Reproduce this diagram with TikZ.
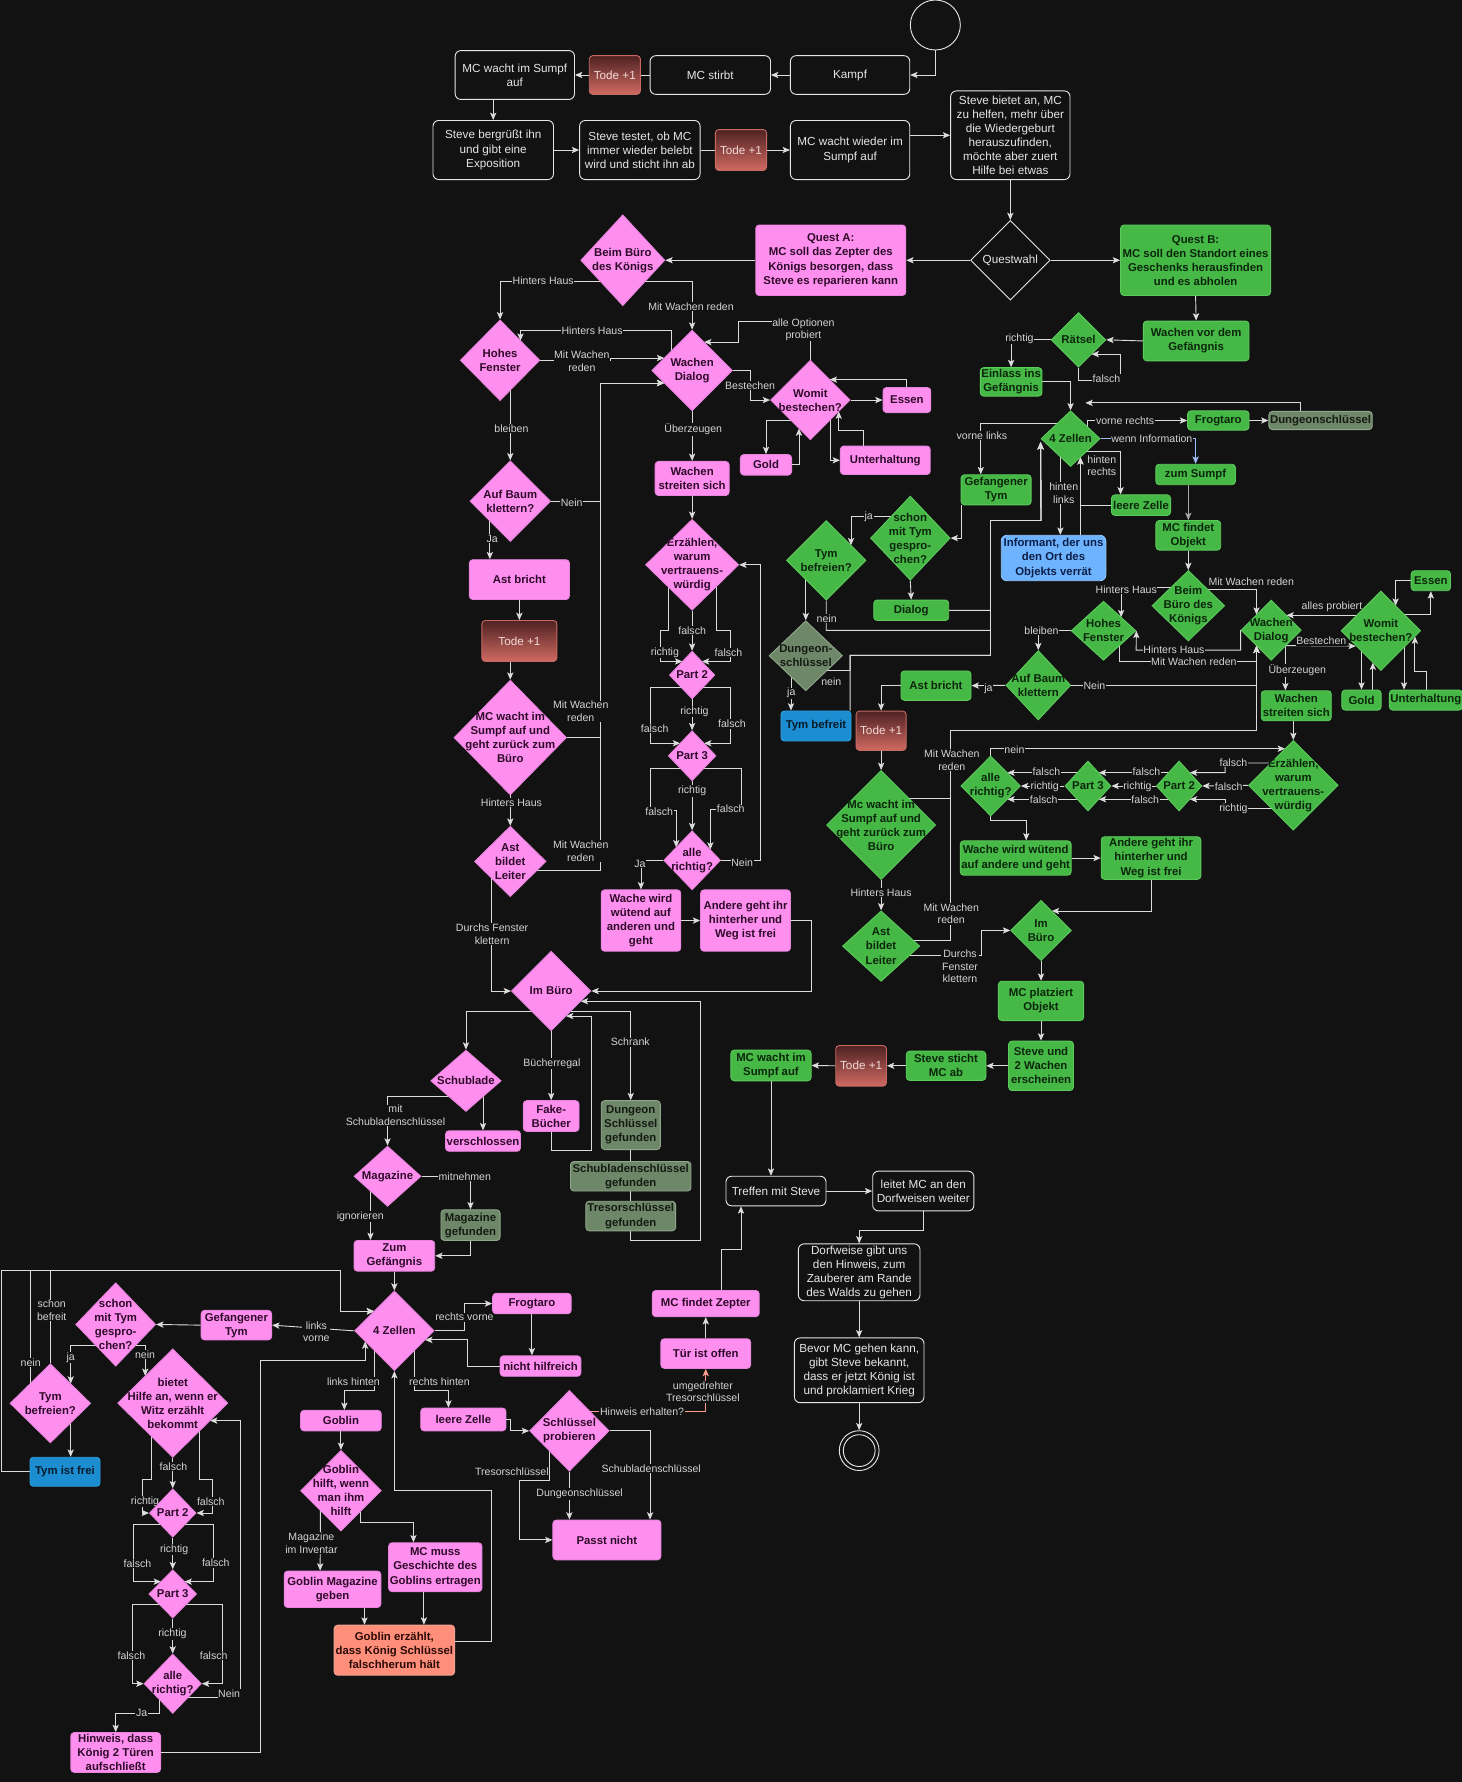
\documentclass[tikz,border=0pt]{standalone}
\usepackage{fontspec}
\setmainfont{Liberation Sans}
\usetikzlibrary{shapes.geometric,arrows.meta}
\definecolor{bgc}{HTML}{121212}
\definecolor{wline}{HTML}{E6E6E6}
\definecolor{wtext}{HTML}{E6E6E6}
\definecolor{pinkf}{HTML}{FF8FEF}
\definecolor{pinkd}{HTML}{E884DC}
\definecolor{pinkt}{HTML}{2E0A2A}
\definecolor{greenf}{HTML}{45B845}
\definecolor{greend}{HTML}{5CCB5C}
\definecolor{greent}{HTML}{0C260C}
\definecolor{grayf}{HTML}{6E8769}
\definecolor{grayd}{HTML}{8FA88A}
\definecolor{grayt}{HTML}{141A12}
\definecolor{lbluef}{HTML}{6DB3FF}
\definecolor{lblued}{HTML}{8CC4FF}
\definecolor{lbluet}{HTML}{0B1E46}
\definecolor{dbluef}{HTML}{1B8DD0}
\definecolor{dblued}{HTML}{2E9FE0}
\definecolor{dbluet}{HTML}{081A2A}
\definecolor{salf}{HTML}{FF8E7B}
\definecolor{sald}{HTML}{F0A090}
\definecolor{salt}{HTML}{2A0A05}
\definecolor{todetop}{HTML}{4F2222}
\definecolor{todebot}{HTML}{D06A62}
\definecolor{todeb}{HTML}{C86A62}
\definecolor{todet}{HTML}{F2DADA}
\definecolor{lc}{HTML}{DCDCDC}
\definecolor{lcg}{HTML}{A8A8A8}
\definecolor{labc}{HTML}{D4D4D4}
\definecolor{infoc}{HTML}{9DBDF5}
\definecolor{hinc}{HTML}{FF9C8C}
\newcommand{\fWbox}{\fontsize{10.3}{12.4}\selectfont}
\newcommand{\fNode}{\bfseries\fontsize{10}{12.4}\selectfont}
\newcommand{\fLab}{\fontsize{9.3}{11}\selectfont}
\newcommand{\mkbox}[7]{\node[#1, minimum width=#5pt, minimum height=#6pt] (#2) at (#3,#4) {#7};}
\newcommand{\mkdia}[7]{\node[#1, minimum width=#5pt, minimum height=#6pt] (#2) at (#3,#4) {}; \node[#1tx] (#2t) at (#2.center) {#7};}
\pgfdeclarelayer{bgl}
\pgfdeclarelayer{edges}
\pgfsetlayers{bgl,edges,main}
\tikzset{
  nd/.style={rounded corners=3pt, inner sep=1pt, align=center, line width=0.8pt},
  wbox/.style={nd, rounded corners=5pt, draw=wline, fill=bgc, text=wtext, font=\fWbox},
  pbox/.style={nd, draw=pinkd, fill=pinkf, text=pinkt, font=\fNode},
  gbox/.style={nd, draw=greend, fill=greenf, text=greent, font=\fNode},
  gybox/.style={nd, draw=grayd, fill=grayf, text=grayt, font=\fNode},
  lbbox/.style={nd, rounded corners=5pt, draw=lblued, fill=lbluef, text=lbluet, font=\fNode},
  dbbox/.style={nd, draw=dblued, fill=dbluef, text=dbluet, font=\fNode},
  sbox/.style={nd, draw=sald, fill=salf, text=salt, font=\fNode},
  tode/.style={nd, draw=todeb, top color=todetop, bottom color=todebot, text=todet, font=\fWbox},
  pdia/.style={diamond, draw=pinkd, fill=pinkf, inner sep=0pt, line width=0.8pt},
  gdia/.style={diamond, draw=greend, fill=greenf, inner sep=0pt, line width=0.8pt},
  gydia/.style={diamond, draw=grayd, fill=grayf, inner sep=0pt, line width=0.8pt},
  wdia/.style={diamond, draw=wline, fill=bgc, inner sep=0pt, line width=0.8pt},
  pdiatx/.style={align=center, inner sep=0pt, text=pinkt, font=\fNode},
  gdiatx/.style={align=center, inner sep=0pt, text=greent, font=\fNode},
  gydiatx/.style={align=center, inner sep=0pt, text=grayt, font=\fNode},
  wdiatx/.style={align=center, inner sep=0pt, text=wtext, font=\fWbox},
  ar/.style={draw=lc, line width=0.8pt, -{Stealth[length=6.5pt,width=5.5pt,inset=1.5pt]}},
  arg/.style={ar, draw=lcg},
  ln/.style={draw=lc, line width=0.8pt},
  lab/.style={fill=bgc, text=labc, font=\fLab, inner sep=0.6pt, align=center},
}
\begin{document}
\begin{tikzpicture}[x=1pt,y=-1pt]
\begin{pgfonlayer}{bgl}
\fill[bgc] (0,0) rectangle (1286,1568);
\end{pgfonlayer}
\useasboundingbox (0,0) rectangle (1286,1568);

% ---------- top (white) ----------
\node[circle, draw=wline, fill=bgc, line width=0.8pt, minimum size=44pt, inner sep=0pt] (st0) at (823,22) {};
\mkbox{wbox}{kampf}{748}{66}{105}{34}{Kampf}
\mkbox{wbox}{stirbt}{625}{66}{106}{34}{MC stirbt}
\mkbox{wbox}{wachtA}{453}{66}{105}{43}{MC wacht im Sumpf\\auf}
\mkbox{wbox}{bergr}{434}{132}{106}{52}{Steve bergrüßt ihn\\und gibt eine\\Exposition}
\mkbox{wbox}{testet}{563}{132}{106}{52}{Steve testet, ob MC\\immer wieder belebt\\wird und sticht ihn ab}
\mkbox{wbox}{wachtB}{748}{132}{105}{52}{MC wacht wieder im\\Sumpf auf}
\mkbox{wbox}{bietet}{889}{119}{105}{78}{Steve bietet an, MC\\zu helfen, mehr über\\die Wiedergeburt\\herauszufinden,\\möchte aber zuert\\Hilfe bei etwas}
\mkbox{tode}{todeA}{541}{66}{45}{34}{Tode +1}
\mkbox{tode}{todeB}{652}{132}{45}{36}{Tode +1}
\mkdia{wdia}{qw}{889}{229}{70}{70}{Questwahl}
\mkbox{pbox}{questA}{731}{229}{132}{62}{Quest A:\\MC soll das Zepter des\\Königs besorgen, dass\\Steve es reparieren kann}
\mkbox{gbox}{questB}{1052}{229}{132}{62}{Quest B:\\MC soll den Standort eines\\Geschenks herausfinden\\und es abholen}

% ---------- pink quest A ----------
\mkdia{pdia}{bbA}{548}{229}{74}{80}{Beim Büro\\des Königs}
\mkdia{pdia}{hfA}{440}{317}{70}{71}{Hohes\\Fenster}
\mkdia{pdia}{wdA}{609}{326}{71}{71}{Wachen\\Dialog}
\mkdia{pdia}{womA}{713}{352}{70}{70}{Womit\\bestechen?}
\mkbox{pbox}{essA}{798}{352}{42}{22}{Essen}
\mkbox{pbox}{goldA}{674}{409}{45}{18}{Gold}
\mkbox{pbox}{untA}{779}{405}{79}{25}{Unterhaltung}
\mkbox{pbox}{wsA}{609}{421}{65}{30}{Wachen\\streiten sich}
\mkdia{pdia}{erzA}{609}{497}{82}{80}{Erzählen,\\warum\\vertrauens-\\würdig}
\mkdia{pdia}{p2A}{609}{594}{40}{42}{Part 2}
\mkdia{pdia}{p3A}{609}{665}{42}{44}{Part 3}
\mkdia{pdia}{arA}{609}{757}{50}{52}{alle\\richtig?}
\mkbox{pbox}{wwA}{564}{810}{70}{54}{Wache wird\\wütend auf\\anderen und\\geht}
\mkbox{pbox}{agA}{656}{810}{79}{54}{Andere geht ihr\\hinterher und\\Weg ist frei}
\mkdia{pdia}{ibA}{485}{872}{70}{70}{Im Büro}
\mkdia{pdia}{abA}{449}{441}{71}{71}{Auf Baum\\klettern?}
\mkbox{pbox}{astA}{457}{510}{88}{35}{Ast bricht}
\mkbox{tode}{todeC}{457}{564}{66}{36}{Tode +1}
\mkdia{pdia}{mwA}{449}{649}{99}{101}{MC wacht im\\Sumpf auf und\\geht zurück zum\\Büro}
\mkdia{pdia}{ablA}{449}{758}{63}{62}{Ast\\bildet\\Leiter}
\mkdia{pdia}{schA}{410}{951}{62}{54}{Schublade}
\mkbox{pbox}{fbA}{485}{982}{49}{27}{Fake-\\Bücher}
\mkbox{gybox}{dsgA}{555}{990}{52}{43}{Dungeon\\Schlüssel\\gefunden}
\mkbox{gybox}{sbgA}{555}{1035}{106}{26}{Schubladenschlüssel\\gefunden}
\mkbox{gybox}{tsgA}{555}{1070}{79}{26}{Tresorschlüssel\\gefunden}
\mkbox{pbox}{verA}{425}{1004}{62}{18}{verschlossen}
\mkdia{pdia}{magA}{341}{1035}{59}{53}{Magazine}
\mkbox{gybox}{mgfA}{414}{1078}{52}{27}{Magazine\\gefunden}
\mkbox{pbox}{zgA}{347}{1105}{71}{27}{Zum\\Gefängnis}
\mkdia{pdia}{z4A}{347}{1171}{70}{70}{4 Zellen}
\mkbox{pbox}{frA}{468}{1147}{69}{18}{Frogtaro}
\mkbox{pbox}{nhA}{475.6}{1202}{71}{18}{nicht hilfreich}
\mkbox{pbox}{gtA}{208}{1166}{62}{26}{Gefangener\\Tym}
\mkbox{pbox}{gobA}{300}{1250}{71}{18}{Goblin}
\mkdia{pdia}{ghA}{300}{1311.7}{71}{71}{Goblin\\hilft, wenn\\man ihm\\hilft}
\mkbox{pbox}{gmgA}{292.6}{1398.4}{85}{32}{Goblin Magazine\\geben}
\mkbox{pbox}{mmA}{383}{1379}{82}{43}{MC muss\\Geschichte des\\Goblins ertragen}
\mkbox{sbox}{geA}{347}{1452}{106}{44}{Goblin erzählt,\\dass König Schlüssel\\falschherum hält}
\mkbox{pbox}{lzA}{407.7}{1249}{75}{20}{leere Zelle}
\mkdia{pdia}{spA}{501}{1259}{70}{71}{Schlüssel\\probieren}
\mkbox{pbox}{pnA}{534}{1355}{95}{35}{Passt nicht}
\mkbox{pbox}{tuA}{621}{1191}{79}{26}{Tür ist offen}
\mkbox{pbox}{mfzA}{621}{1147}{94}{23}{MC findet Zepter}
\mkbox{wbox}{trA}{682.8}{1048}{88}{26}{Treffen mit Steve}
\mkbox{wbox}{leA}{812.4}{1048}{89}{35}{leitet MC an den\\Dorfweisen weiter}
\mkbox{wbox}{dwA}{756}{1119.5}{107}{50}{Dorfweise gibt uns\\den Hinweis, zum\\Zauberer am Rande\\des Walds zu gehen}
\mkbox{wbox}{bvA}{756}{1205.7}{114}{57}{Bevor MC gehen kann,\\gibt Steve bekannt,\\dass er jetzt König ist\\und proklamiert Krieg}
\node[circle, draw=wline, fill=bgc, line width=0.8pt, minimum size=35pt, inner sep=0pt] (endA) at (756,1276.4) {};
\node[circle, draw=wline, line width=0.8pt, minimum size=28pt, inner sep=0pt] (endAi) at (endA.center) {};

% Tym (pink)
\mkdia{pdia}{stA}{101.8}{1165.4}{70.4}{73.4}{schon\\mit Tym\\gespro-\\chen?}
\mkdia{pdia}{tbA}{44.3}{1234.8}{71}{69.6}{Tym\\befreien?}
\mkdia{pdia}{bhA}{152}{1234.6}{97}{95.4}{bietet\\Hilfe an, wenn er\\Witz erzählt\\bekommt}
\mkbox{dbbox}{tifA}{57.2}{1295}{61.6}{25.5}{Tym ist frei}
\mkdia{pdia}{p2T}{152}{1331.3}{41}{42.6}{Part 2}
\mkdia{pdia}{p3T}{152}{1402.5}{42}{42.5}{Part 3}
\mkdia{pdia}{arT}{152}{1481.5}{50.5}{52.2}{alle\\richtig?}
\mkbox{pbox}{hwA}{101.8}{1542}{79}{35}{Hinweis, dass\\König 2 Türen\\aufschließt}

% ---------- green quest B ----------
\mkbox{gbox}{wvG}{1052.5}{300}{93}{35}{Wachen vor dem\\Gefängnis}
\mkdia{gdia}{raG}{949}{299}{48}{48}{Rätsel}
\mkbox{gbox}{eiG}{889.7}{336}{53}{25}{Einlass ins\\Gefängnis}
\mkdia{gdia}{z4G}{942}{386}{52}{49}{4 Zellen}
\mkbox{gbox}{frG}{1072}{370}{54}{17}{Frogtaro}
\mkbox{gybox}{dkG}{1162}{370}{88.6}{16}{Dungeonschlüssel}
\mkbox{gbox}{zsG}{1052}{417.5}{70}{18}{zum Sumpf}
\mkbox{gbox}{mfoG}{1045.6}{471}{57}{26}{MC findet\\Objekt}
\mkbox{gbox}{lzG}{1004}{444.5}{52}{18}{leere Zelle}
\mkbox{lbbox}{inG}{927}{491}{92}{40}{Informant, der uns\\den Ort des\\Objekts verrät}
\mkbox{gbox}{gtG}{876.5}{431}{61.6}{26.5}{Gefangener\\Tym}
\mkdia{gdia}{stG}{801}{473.5}{70}{74}{schon\\mit Tym\\gespro-\\chen?}
\mkdia{gdia}{tbG}{727}{493}{70}{70}{Tym\\befreien?}
\mkbox{gbox}{dlG}{801.8}{537}{66}{18}{Dialog}
\mkdia{gydia}{dsG}{709}{577}{64.6}{61.6}{Dungeon-\\schlüssel}
\mkbox{dbbox}{tybG}{718}{638.8}{61.6}{26.4}{Tym befreit}
\mkdia{gdia}{bbG}{1045.6}{533}{64}{62}{Beim\\Büro des\\Königs}
\mkdia{gdia}{hfG}{971}{555}{57}{52}{Hohes\\Fenster}
\mkdia{gdia}{wdG}{1118.5}{554.5}{53}{53}{Wachen\\Dialog}
\mkdia{gdia}{abG}{913.6}{603}{57}{61}{Auf Baum\\klettern}
\mkbox{gbox}{asG}{823.6}{603.3}{61.6}{25.8}{Ast bricht}
\mkbox{tode}{tdG1}{775.3}{643}{44}{34.6}{Tode +1}
\mkdia{gdia}{mwG}{775.3}{726}{96}{96}{Mc wacht im\\Sumpf auf und\\geht zurück zum\\Büro}
\mkdia{gdia}{ablG}{775.3}{832.5}{68}{62}{Ast\\bildet\\Leiter}
\mkdia{gdia}{ibG}{916}{818.7}{53.4}{53}{Im\\Büro}
\mkbox{gbox}{mpG}{916}{880.7}{75}{34.6}{MC platziert\\Objekt}
\mkbox{gbox}{swG}{916}{937.8}{57}{43.5}{Steve und\\2 Wachen\\erscheinen}
\mkbox{gbox}{ssG}{832.4}{937.8}{70}{25.7}{Steve sticht\\MC ab}
\mkbox{tode}{tdG2}{757.7}{937.8}{44.6}{35.7}{Tode +1}
\mkbox{gbox}{mwsG}{678.4}{937.5}{70.6}{27}{MC wacht im\\Sumpf auf}
\mkbox{gbox}{wsG}{1140.6}{621}{61.6}{26.4}{Wachen\\streiten sich}
\mkdia{gdia}{erzG}{1138}{691}{79}{79}{Erzählen,\\warum\\vertrauens-\\würdig}
\mkdia{gdia}{womG}{1215}{555}{70}{70}{Womit\\bestechen?}
\mkbox{gbox}{esG}{1259}{511}{34.6}{17.6}{Essen}
\mkbox{gbox}{goG}{1198}{616}{34.6}{17.6}{Gold}
\mkbox{gbox}{unG}{1254.6}{616}{61}{17.6}{Unterhaltung}
\mkdia{gdia}{p2G}{1037.5}{691.6}{40}{44}{Part 2}
\mkdia{gdia}{p3G}{957.3}{691.6}{40.5}{44}{Part 3}
\mkdia{gdia}{arG}{871.7}{691.6}{52.5}{52.8}{alle\\richtig?}
\mkbox{gbox}{wwG}{893.7}{755}{96.6}{30.2}{Wache wird wütend\\auf andere und geht}
\mkbox{gbox}{agG}{1012.8}{755}{87.7}{37.5}{Andere geht ihr\\hinterher und\\Weg ist frei}
\coordinate (dkEnd) at (955,354.5);

\begin{pgfonlayer}{edges}
% top
\draw[ar] (st0.south) |- (kampf.east);
\draw[ar] (kampf.west) -- (stirbt.east);
\draw[ar] (stirbt.west) -- (wachtA.east);
\draw[ar] (434,0 |- wachtA.south) -- (bergr.north);
\draw[ar] (bergr.east) -- (testet.west);
\draw[ar] (testet.east) -- (wachtB.west);
\draw[ar] (wachtB.east |- bietet.west) -- (bietet.west);
\draw[ar] (bietet.south) -- (qw.north);
\draw[ar] (qw.west) -- (questA.east);
\draw[ar] (qw.east) -- (questB.west);
% pink
\draw[ar] (questA.west) -- (bbA.east);
\draw[ar] ([shift={(0,19)}]bbA.center) -| (hfA.north);
\draw[ar] ([shift={(0,19)}]bbA.center) -| (wdA.north);
\draw[ar] ([shift={(-18,0)}]wdA.center) |- (458,291) -- ([shift={(18,-17.2)}]hfA.center);
\draw[ar] (hfA.east) -- (537,317) |- ([shift={(-24.5,-11)}]wdA.center);
\draw[ar] (wdA.east) -| (660,352) -- (womA.west);
\draw[ar] (womA.north) |- (650,283) |- ([shift={(10.5,-25)}]wdA.center);
\draw[ar] (womA.east) -- (essA.west);
\draw[ar] (essA.north) |- ([shift={(17,-18)}]womA.center);
\draw[ar] ([shift={(0,18)}]womA.center) -| (goldA.north);
\draw[ar] (goldA.east) -| ([shift={(-10,25)}]womA.center);
\draw[ar] ([shift={(18,0)}]womA.center) |- (untA.west);
\draw[ar] (760,0 |- untA.north) |- (738,379) -- ([shift={(25,10)}]womA.center);
\draw[ar] (wdA.south) -- (wsA.north);
\draw[ar] (wsA.south) -- (erzA.north);
\draw[ar] (erzA.south) -- (p2A.north);
\draw[ar] ([shift={(-21,0)}]erzA.center) |- (581,555) |- ([shift={(-8.6,-12)}]p2A.center);
\draw[ar] ([shift={(21,0)}]erzA.center) |- (643,555) |- ([shift={(8.6,-12)}]p2A.center);
\draw[ar] (p2A.south) -- (p3A.north);
\draw[ar] ([shift={(0,11)}]p2A.center) -| (572,654) -- ([shift={(-10.5,-11)}]p3A.center);
\draw[ar] ([shift={(0,11)}]p2A.center) -| (643,654) -- ([shift={(10.5,-11)}]p3A.center);
\draw[ar] (p3A.south) -- (arA.north);
\draw[ar] ([shift={(0,11)}]p3A.center) -| (572,713) -| ([shift={(-14,-11.4)}]arA.center);
\draw[ar] ([shift={(0,11)}]p3A.center) -| (652,712) -| ([shift={(16,-9.4)}]arA.center);
\draw[ar] (arA.east) -| (669,497) -- (erzA.east);
\draw[ar] (arA.west) -| (wwA.north);
\draw[ar] (wwA.east) -- (agA.west);
\draw[ar] (agA.east) -- (714,810) |- (ibA.east);
\draw[ar] ([shift={(9,0)}]hfA.center) -- (abA.north);
\draw[ar] ([shift={(-18,0)}]abA.center) -- (431,0 |- astA.north);
\draw[ar] (abA.east) -| (528,337) -- ([shift={(-24.5,11)}]wdA.center);
\draw[ar] (astA.south) -- (todeC.north);
\draw[ar] (449,0 |- todeC.south) -- (mwA.north);
\draw[ar] (mwA.east) -| (528,337) -- ([shift={(-24.5,11)}]wdA.center);
\draw[ar] (mwA.south) -- (ablA.north);
\draw[ar] ([shift={(0,8)}]ablA.center) -| (528,337) -- ([shift={(-24.5,11)}]wdA.center);
\draw[ar] ([shift={(-17,0)}]ablA.center) |- (ibA.west);
\draw[ar] ([shift={(0,18)}]ibA.center) -| (schA.north);
\draw[ar] (ibA.south) -- (fbA.north);
\draw[ar] (fbA.south) |- (520,1012) |- ([shift={(13,22)}]ibA.center);
\draw[ar] ([shift={(0,18)}]ibA.center) -| (dsgA.north);
\draw[ln] (dsgA.south) -- (sbgA.north);
\draw[ln] (sbgA.south) -- (tsgA.north);
\draw[ar] (tsgA.south) |- (616,1091.5) |- ([shift={(26,9)}]ibA.center);
\draw[ar] ([shift={(15,0)}]schA.center) -- (verA.north);
\draw[ar] ([shift={(0,13.5)}]schA.center) -| (magA.north);
\draw[ar] (magA.east) -| (mgfA.north);
\draw[ar] ([shift={(-15,0)}]magA.center) -- (326,0 |- zgA.north);
\draw[ar] (mgfA.south) |- (zgA.east);
\draw[ar] (zgA.south) -- (z4A.north);
\draw[ar] (z4A.east) -| (408.5,1147) -- (frA.west);
\draw[ar] (468,0 |- frA.south) -- (468,0 |- nhA.north);
\draw[ar] (nhA.west) -| (411,1179) -- ([shift={(27,8)}]z4A.center);
\draw[ar] (z4A.west) -- (gtA.east);
\draw[ar] ([shift={(-17.5,0)}]z4A.center) |- (303,1223.6) -- (303,0 |- gobA.north);
\draw[ar] (gobA.south) -- (ghA.north);
\draw[ar] ([shift={(-18,0)}]ghA.center) -- (281.7,0 |- gmgA.north);
\draw[ar] ([shift={(17.3,0)}]ghA.center) |- (363.8,1340) -- (363.8,0 |- mmA.north);
\draw[ar] (320.7,0 |- gmgA.south) -- (320.7,0 |- geA.north);
\draw[ar] (373,0 |- mmA.south) -- (373,0 |- geA.north);
\draw[ar] ([shift={(0,-8)}]geA.center) -| (432,1311.6) -| (z4A.south);
\draw[ar] ([shift={(17.5,0)}]z4A.center) |- (394.6,1223.6) -- (394.6,0 |- lzA.north);
\draw[ar] (lzA.east) -| (449.5,1259) -- (spA.west);
\draw[ar] ([shift={(-17.4,0)}]spA.center) |- (457,1302.8) |- (pnA.west);
\draw[ar] (spA.south) -- (501,0 |- pnA.north);
\draw[ar] (spA.east) -| (572,0 |- pnA.north);
\draw[ar, draw=hinc] ([shift={(0,-17)}]spA.center) -| (tuA.south);
\draw[ar] (tuA.north) -- (mfzA.south);
\draw[ar] (634.4,0 |- mfzA.north) |- (652,1099) -- (652,0 |- trA.south);
\draw[ar] (trA.east) -- (leA.west);
\draw[ar] (leA.south) |- (756,1083) -- (dwA.north);
\draw[ar] (dwA.south) -- (bvA.north);
\draw[ar] (bvA.south) -- (endA.north);
\draw[ar] (678.4,0 |- mwsG.south) -- (678.4,0 |- trA.north);
% Tym pink
\draw[ar] (gtA.west) -- (stA.east);
\draw[ar] ([shift={(0,18.6)}]stA.center) -| ([shift={(17.9,-17.3)}]tbA.center);
\draw[ar] ([shift={(0,18.6)}]stA.center) -| ([shift={(-24.2,-23.9)}]bhA.center);
\draw[ar] ([shift={(17.9,0)}]tbA.center) -- (62.2,0 |- tifA.north);
\draw[ar] (tifA.west) -| (1.5,1118) -| (299.3,1153.8) -- ([shift={(-17.8,-17.2)}]z4A.center);
\draw[ar] ([shift={(-17.3,0)}]tbA.center) |- (299.3,1118) -- (299.3,1153.8) -- ([shift={(-17.8,-17.2)}]z4A.center);
\draw[ar] (tbA.north) |- (299.3,1118) -- (299.3,1153.8) -- ([shift={(-17.8,-17.2)}]z4A.center);
\draw[ar] (bhA.south) -- (p2T.north);
\draw[ar] ([shift={(-18.3,0)}]bhA.center) |- (125.3,1301.4) |- (p2T.west);
\draw[ar] ([shift={(23.7,0)}]bhA.center) |- (187,1301.4) |- (p2T.east);
\draw[ar] (p2T.south) -- (p3T.north);
\draw[ar] ([shift={(0,10.5)}]p2T.center) -| (117.4,1391.7) -- ([shift={(-10.3,-10.8)}]p3T.center);
\draw[ar] ([shift={(0,10.5)}]p2T.center) -| (187.8,1391.7) -- ([shift={(10.3,-10.8)}]p3T.center);
\draw[ar] (p3T.south) -- (arT.north);
\draw[ar] ([shift={(0,9.5)}]p3T.center) -| (116.8,1481.5) -- (arT.west);
\draw[ar] ([shift={(0,9.5)}]p3T.center) -| (195.7,1481.5) -- (arT.east);
\draw[ar] ([shift={(0,12)}]arT.center) -| (211.9,1250) -- ([shift={(32.8,15.4)}]bhA.center);
\draw[ar] ([shift={(-12,0)}]arT.center) |- (101.8,1507.6) -- (hwA.north);
\draw[ar] (hwA.east) -| (229.5,1197) -| ([shift={(-25.7,9.3)}]z4A.center);
% green
\draw[ar] (questB.south) -- (wvG.north);
\draw[ar] (wvG.west) -- (raG.east);
\draw[ar] (raG.south) |- (986,334.8) |- ([shift={(11.4,12.6)}]raG.center);
\draw[ar] (raG.west) -| (eiG.north);
\draw[ar] (eiG.east) -| (z4G.north);
\draw[ar] ([shift={(15,0)}]z4G.center) |- (frG.west);
\draw[ar] (frG.east) -- (dkG.west);
\draw[ar] (1144,0 |- dkG.north) |- (dkEnd);
\draw[ar, draw=infoc] (z4G.east) -| (zsG.north);
\draw[arg] (1045.6,0 |- zsG.south) -- (mfoG.north);
\draw[ar] ([shift={(0,11.6)}]z4G.center) -| (986,0 |- lzG.north);
\draw[ar] (lzG.west) -| ([shift={(8.7,16.3)}]z4G.center);
\draw[ar] (950.7,0 |- inG.north) -- ([shift={(8.7,16.3)}]z4G.center);
\draw[ar] ([shift={(-9,0)}]z4G.center) -- (933,0 |- inG.north);
\draw[ar] ([shift={(0,-13)}]z4G.center) -| (863,0 |- gtG.north);
\draw[ar] (845.7,0 |- gtG.south) |- (stG.east);
\draw[ar] ([shift={(0,-18.7)}]stG.center) -| ([shift={(21.8,-13.2)}]tbG.center);
\draw[ar] (stG.south) -- (dlG.north);
\draw[ar] ([shift={(-18,0)}]tbG.center) -- (dsG.north);
\draw[ar] ([shift={(-13,0)}]dsG.center) -- (696,0 |- tybG.north);
\draw[ar] (748,0 |- tybG.north) |- (871.5,576.6) |- (916,458) -- ([shift={(0,3)}]z4G.west);
\draw[ar] ([shift={(0,13)}]dsG.center) -| (748,576.6) -| (871.5,458) -- (916,458) -- ([shift={(0,3)}]z4G.west);
\draw[ar] (dlG.east) -| (871.5,458) -- (916,458) -- ([shift={(0,3)}]z4G.west);
\draw[ar] (tbG.south) |- (871.5,554.6) -- (871.5,458) -- (916,458) -- ([shift={(0,3)}]z4G.west);
\draw[ar] (mfoG.south) -- (bbG.north);
\draw[ar] ([shift={(0,-16)}]bbG.center) -| ([shift={(15.5,-11.9)}]hfG.center);
\draw[ar] ([shift={(0,-14)}]bbG.center) -| ([shift={(-12.9,-13.6)}]wdG.center);
\draw[ar] (wdG.west) |- (999.7,572) -- (hfG.east);
\draw[ar] ([shift={(14,0)}]hfG.center) |- (1105.6,582) -- ([shift={(-12.9,13.6)}]wdG.center);
\draw[ar] (hfG.west) -| (abG.north);
\draw[ar] (abG.west) -- (asG.east);
\draw[ar] (abG.east) -| ([shift={(-12.9,13.6)}]wdG.center);
\draw[ar] (asG.west) -| (tdG1.north);
\draw[ar] (tdG1.south) -- (mwG.north);
\draw[ar] ([shift={(0,-23.5)}]mwG.center) -| (836.5,642.6) -| ([shift={(-12.9,13.6)}]wdG.center);
\draw[ar] (mwG.south) -- (ablG.north);
\draw[ar] ([shift={(0,-5)}]ablG.center) -| (836.5,642.6) -| ([shift={(-12.9,13.6)}]wdG.center);
\draw[ar] ([shift={(0,8)}]ablG.center) -| (863.3,818.7) -- (ibG.west);
\draw[ar] (ibG.south) -- (mpG.north);
\draw[ar] (mpG.south) -- (swG.north);
\draw[ar] (swG.west) -- (ssG.east);
\draw[ar] (ssG.west) -- (tdG2.east);
\draw[ar] (tdG2.west) -- (mwsG.east);
\draw[ar] ([shift={(12.5,0)}]wdG.center) -- (1131,0 |- wsG.north);
\draw[ar] (1138,0 |- wsG.south) -- (erzG.north);
\draw[ar] ([shift={(0,13.5)}]wdG.center) -- ([shift={(-22,13.5)}]womG.center);
\draw[ar] ([shift={(0,-13.6)}]womG.center) -- ([shift={(13.4,-13.1)}]wdG.center);
\draw[ar] ([shift={(0,-14)}]womG.center) -| (esG.south);
\draw[ar] (esG.west) -| ([shift={(13,-22)}]womG.center);
\draw[ar] ([shift={(-17,0)}]womG.center) -- (goG.north);
\draw[ar] (1208,0 |- goG.north) -- ([shift={(-7,28)}]womG.center);
\draw[ar] ([shift={(20.4,0)}]womG.center) -- (1235.4,0 |- unG.north);
\draw[ar] (1254.7,0 |- unG.north) |- (1245,590.4) -- ([shift={(30,5)}]womG.center);
\draw[ar] ([shift={(0,-19.6)}]erzG.center) -| (1078,679.9) -- ([shift={(9.4,-11.7)}]p2G.center);
\draw[ar] (erzG.west) -- (p2G.east);
\draw[ar] ([shift={(0,20)}]erzG.center) -| (1078,703.3) -- ([shift={(9.4,11.7)}]p2G.center);
\draw[ar] ([shift={(0,-11.7)}]p2G.center) -- ([shift={(9.5,-11.7)}]p3G.center);
\draw[ar] (p2G.west) -- (p3G.east);
\draw[ar] ([shift={(0,11.7)}]p2G.center) -- ([shift={(9.5,11.7)}]p3G.center);
\draw[ar] ([shift={(0,-11.7)}]p3G.center) -- ([shift={(14.6,-11.7)}]arG.center);
\draw[ar] (p3G.west) -- (arG.east);
\draw[ar] ([shift={(0,11.7)}]p3G.center) -- ([shift={(14.6,11.7)}]arG.center);
\draw[ar] (arG.north) |- ([shift={(-7.3,-32.2)}]erzG.center);
\draw[ar] (arG.south) |- (903,721.8) -- (903,0 |- wwG.north);
\draw[ar] (wwG.east) -- (agG.west);
\draw[ar] (agG.south) |- ([shift={(9.5,-17.1)}]ibG.center);

% ---------- labels ----------
\node[lab] (L1) at (478,247) {Hinters Haus};
\node[lab] (L2) at (608,270) {Mit Wachen reden};
\node[lab] (L3) at (521,291) {Hinters Haus};
\node[lab] (L4) at (512,318) {Mit Wachen\\reden};
\node[lab] (L5) at (660,339) {Bestechen};
\node[lab] (L6) at (707,290) {alle Optionen\\probiert};
\node[lab] (L7) at (610,378) {Überzeugen};
\node[lab] (L8) at (450,377) {bleiben};
\node[lab] (L9) at (433,474) {Ja};
\node[lab] (L10) at (503,442) {Nein};
\node[lab] (L11) at (609,555) {falsch};
\node[lab] (L12) at (585,574) {richtig};
\node[lab] (L13) at (641,574) {falsch};
\node[lab] (L14) at (611,626) {richtig};
\node[lab] (L15) at (576,641) {falsch};
\node[lab] (L16) at (644,637) {falsch};
\node[lab] (L17) at (609,696) {richtig};
\node[lab] (L18) at (580,714) {falsch};
\node[lab] (L19) at (643,712) {falsch};
\node[lab] (L20) at (563,760) {Ja};
\node[lab] (L21) at (653,759) {Nein};
\node[lab] (L22) at (511,626) {Mit Wachen\\reden};
\node[lab] (L23) at (450,706) {Hinters Haus};
\node[lab] (L24) at (511,749) {Mit Wachen\\reden};
\node[lab] (L25) at (433,822) {Durchs Fenster\\klettern};
\node[lab] (L26) at (485.6,936) {Bücherregal};
\node[lab] (L27) at (554.6,917) {Schrank};
\node[lab] (L28) at (348,981.5) {mit\\Schubladenschlüssel};
\node[lab] (L29) at (409,1035) {mitnehmen};
\node[lab] (L30) at (317,1070.5) {ignorieren};
\node[lab] (L31) at (408.7,1159) {rechts vorne};
\node[lab] (L32) at (278.4,1171.6) {links\\vorne};
\node[lab] (L33) at (311,1215.7) {links hinten};
\node[lab] (L34) at (386.7,1215.7) {rechts hinten};
\node[lab] (L35) at (274,1357.7) {Magazine\\im Inventar};
\node[lab] (L36) at (450.4,1295) {Tresorschlüssel};
\node[lab] (L37) at (510,1314.5) {Dungeonschlüssel};
\node[lab] (L38) at (573,1292) {Schubladenschlüssel};
\node[lab] (L39) at (565,1241.8) {Hinweis erhalten?};
\node[lab] (L40) at (618.5,1224.7) {umgedrehter\\Tresorschlüssel};
\node[lab] (L41) at (62.2,1194.8) {ja};
\node[lab] (L42) at (127.6,1192) {nein};
\node[lab] (L43) at (27,1199) {nein};
\node[lab] (L44) at (45.5,1153) {schon\\befreit};
\node[lab] (L45) at (152.6,1290.5) {falsch};
\node[lab] (L46) at (127.6,1321) {richtig};
\node[lab] (L47) at (185.5,1321) {falsch};
\node[lab] (L48) at (153.2,1363.6) {richtig};
\node[lab] (L49) at (120.9,1376) {falsch};
\node[lab] (L50) at (189.9,1375.3) {falsch};
\node[lab] (L51) at (151.7,1437.8) {richtig};
\node[lab] (L52) at (115.6,1457) {falsch};
\node[lab] (L53) at (188,1457) {falsch};
\node[lab] (L54) at (201.6,1490.6) {Nein};
\node[lab] (L55) at (124.7,1507.6) {Ja};
\node[lab] (L56) at (973.6,333) {falsch};
\node[lab] (L57) at (897,297.8) {richtig};
\node[lab] (L58) at (990,370.6) {vorne rechts};
\node[lab] (L59) at (1013.5,385.6) {wenn Information};
\node[lab] (L60) at (969.5,410) {hinten\\rechts};
\node[lab] (L61) at (936,434) {hinten\\links};
\node[lab] (L62) at (864,383) {vorne links};
\node[lab] (L63) at (764.4,454.8) {ja};
\node[lab] (L64) at (727.4,544.3) {nein};
\node[lab] (L65) at (696.3,610) {ja};
\node[lab] (L66) at (731.5,599.5) {nein};
\node[lab] (L67) at (991,518.5) {Hinters Haus};
\node[lab] (L68) at (1101,511.5) {Mit Wachen reden};
\node[lab] (L69) at (1033,572) {Hinters Haus};
\node[lab] (L70) at (1050.5,582) {Mit Wachen reden};
\node[lab] (L71) at (916.4,555) {bleiben};
\node[lab] (L72) at (869.7,606) {ja};
\node[lab] (L73) at (963,603) {Nein};
\node[lab] (L74) at (837.5,669) {Mit Wachen\\reden};
\node[lab] (L75) at (775.3,785.5) {Hinters Haus};
\node[lab] (L76) at (837,804) {Mit Wachen\\reden};
\node[lab] (L77) at (844.7,850.4) {Durchs\\Fenster\\klettern};
\node[lab] (L78) at (1141.5,590) {Überzeugen};
\node[lab] (L79) at (1162.6,564) {Bestechen};
\node[lab] (L80) at (1172,534) {alles probiert};
\node[lab] (L81) at (1085.3,671) {falsch};
\node[lab] (L82) at (1081.2,691.9) {falsch};
\node[lab] (L83) at (1085.3,711.6) {richtig};
\node[lab] (L84) at (1008.8,679) {falsch};
\node[lab] (L85) at (1000.9,691.9) {richtig};
\node[lab] (L86) at (1007.7,703.5) {falsch};
\node[lab] (L87) at (920.8,679) {falsch};
\node[lab] (L88) at (919.3,691.9) {richtig};
\node[lab] (L89) at (918.4,703.5) {falsch};
\node[lab] (L90) at (892.6,659.6) {nein};
\end{pgfonlayer}
\end{tikzpicture}
\end{document}
